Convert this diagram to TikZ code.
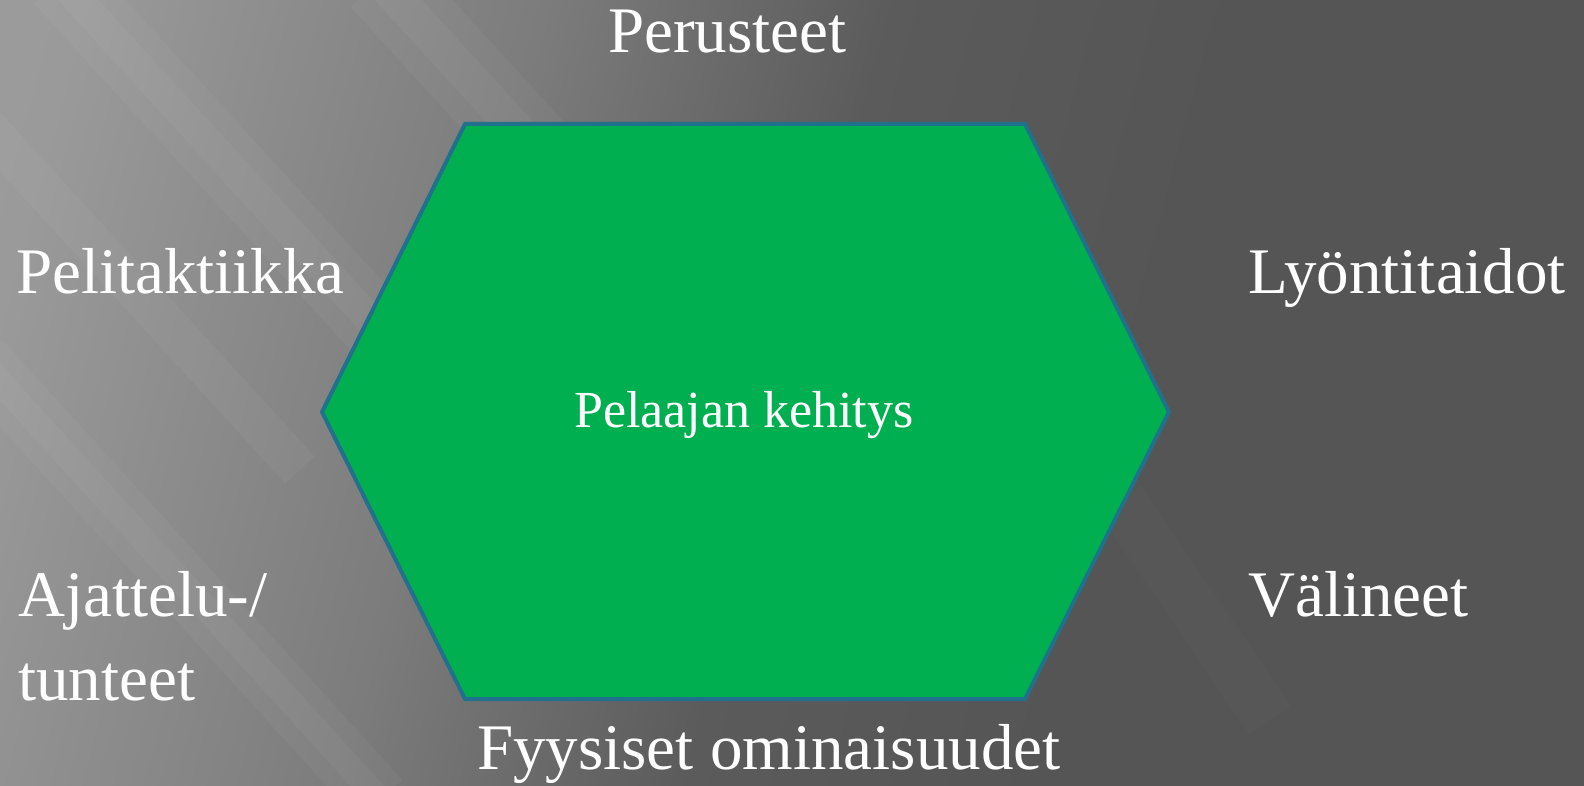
\documentclass[tikz,border=0pt]{standalone}
\usepackage{fontspec}
\setmainfont{Liberation Serif}
\usepackage{xcolor}
\definecolor{hexgreen}{HTML}{00B050}
\definecolor{hexedge}{HTML}{21718C}
\definecolor{bglight}{HTML}{A4A4A4}
\definecolor{bgmid}{HTML}{7C7C7C}
\definecolor{bgdark}{HTML}{555555}
\pgfdeclarehorizontalshading{slidebg}{100bp}{color(0bp)=(bglight); color(22bp)=(bglight!94!black);
  color(38bp)=(bgmid); color(50bp)=(bgdark!85!bgmid); color(62bp)=(bgdark); color(100bp)=(bgdark)}
\tikzset{
  lbl/.style={anchor=base west,inner sep=0pt,text=white,font=\fontsize{65}{84}\selectfont},
  streak/.style={line width=#1,white,opacity=0.035},
}

\begin{document}
\begin{tikzpicture}[x=1pt,y=-1pt]
  \useasboundingbox (0,0) rectangle (1584,786);
  % ===== background =====
  \begin{scope}
    \clip (0,0) rectangle (1584,786);
    \shade[shading=slidebg,shading angle=-15] (0,0) rectangle (1584,786);
    % soft diagonal streaks
    \draw[streak=70pt] (60,-20)--(480,440);   \draw[streak=30pt] (60,-20)--(480,440);
    \draw[streak=60pt] (-20,360)--(380,800);  \draw[streak=25pt] (-20,360)--(380,800);
    \draw[streak=80pt] (380,-20)--(700,330);  \draw[streak=35pt] (380,-20)--(700,330);
    \draw[streak=40pt] (-20,120)--(300,470);
    \draw[streak=50pt,opacity=0.015] (1120,500)--(1270,720);
  \end{scope}

  % ===== hexagon =====
  \draw[line width=4pt,draw=hexedge,fill=hexgreen,line join=miter]
    (465,124)--(1025,124)--(1169,412)--(1025,699)--(465,699)--(322,412)--cycle;
  \node[lbl,font=\fontsize{52}{60}\selectfont] (centre) at (574,427){Pelaajan kehitys};

  % ===== labels round the hexagon =====
  \node[lbl] (perus)  at (608,53){Perusteet};
  \node[lbl] (taktik) at (16,293){Pelitaktiikka};
  \node[lbl] (lyonti) at (1248,293){Lyöntitaidot};
  \node[lbl,align=left] (ajatt) at (18,700){Ajattelu-/\\tunteet};
  \node[lbl] (valin)  at (1248,616){Välineet};
  \node[lbl] (fyys)   at (477,769){Fyysiset ominaisuudet};
\end{tikzpicture}
\end{document}
